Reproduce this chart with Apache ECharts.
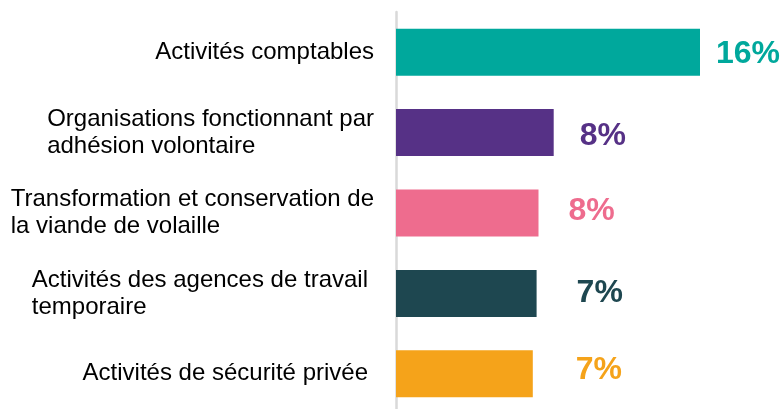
<!DOCTYPE html>
<html>
<head>
<meta charset="utf-8">
<script src="https://cdn.jsdelivr.net/npm/echarts@6/dist/echarts.min.js"></script>
<style>
    body { margin: 0; background: #fff; }
    #chart { width: 784px; height: 409px; }
</style>
</head>
<body>
<div id="chart"></div>
<script>
// données
var categories = [
    'Activités comptables',
    'Organisations fonctionnant par\nadhésion volontaire',
    'Transformation et conservation de\nla viande de volaille',
    'Activités des agences de travail\ntemporaire',
    'Activités de sécurité privée'
];
var values = [16, 8.3, 7.5, 7.4, 7.2];
var valueLabels = ['16%', '8%', '8%', '7%', '7%'];
var colors = ['#00a89c', '#563186', '#ee6c8e', '#1e4750', '#f5a31a'];

// position des étiquettes (distance du bout de barre, décalage vertical)
var labelDistance = [16, 26, 30, 40, 43];
var labelShiftY = [2, 4, -2, 0, -4];

var chart = echarts.init(document.getElementById('chart'));

var seriesData = [];
for (var i = 0; i < values.length; i++) {
    seriesData.push({
        value: values[i],
        itemStyle: { color: colors[i] },
        label: {
            color: colors[i],
            distance: labelDistance[i],
            offset: [0, labelShiftY[i]]
        }
    });
}

var font = 'Arial, "Liberation Sans", sans-serif';

chart.setOption({
    animation: false,
    grid: {
        left: 396,
        right: 8,
        top: 12,
        height: 402,
        outerBoundsMode: 'none',
        containLabel: false
    },
    xAxis: {
        type: 'value',
        min: 0,
        max: 20,
        show: false
    },
    yAxis: {
        type: 'category',
        inverse: true,
        data: categories,
        axisTick: { show: false },
        axisLine: {
            show: true,
            lineStyle: { color: '#d9d9d9', width: 2.5 }
        },
        axisLabel: {
            margin: 22,
            align: 'right',
            formatter: function (value, index) {
                // les deux dernières lignes sont un peu plus à gauche
                var style = index >= 3 ? 'b' : 'a';
                return '{' + style + '|' + value + '}';
            },
            rich: {
                a: {
                    align: 'left',
                    fontFamily: font,
                    fontSize: 24,
                    lineHeight: 27,
                    color: '#000'
                },
                b: {
                    align: 'left',
                    fontFamily: font,
                    fontSize: 24,
                    lineHeight: 27,
                    color: '#000',
                    padding: [0, 6, 0, 0]
                }
            }
        }
    },
    series: [
        {
            type: 'bar',
            barWidth: 47,
            data: seriesData,
            label: {
                show: true,
                position: 'right',
                fontFamily: font,
                fontSize: 32,
                fontWeight: 'bold',
                formatter: function (p) {
                    return valueLabels[p.dataIndex];
                }
            }
        }
    ]
});
</script>
</body>
</html>
